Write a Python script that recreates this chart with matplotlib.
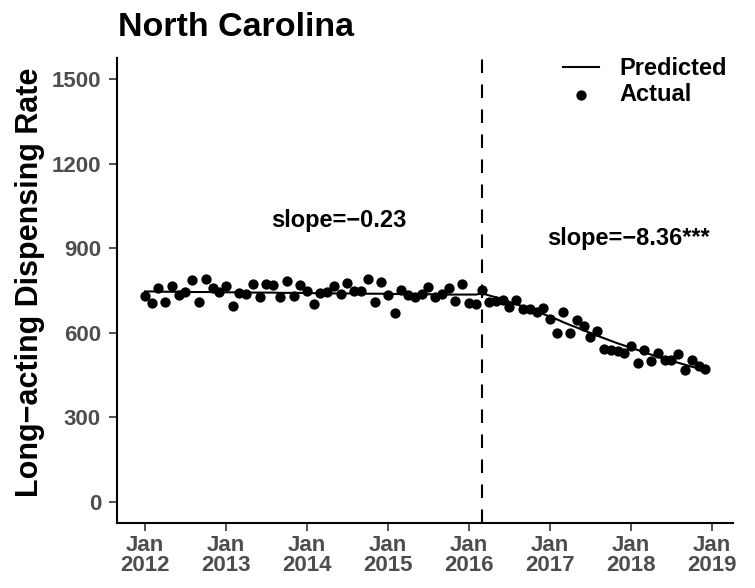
import matplotlib
matplotlib.use("Agg")
import matplotlib.pyplot as plt
import numpy as np
import pandas as pd

plt.rcParams['font.family'] = ['Liberation Sans', 'DejaVu Sans']

# monthly dispensing rate, Jan 2012 - Dec 2018
months = pd.date_range("2012-01-01", periods=84, freq="MS")
actual = [
    731, 707, 758, 708, 767, 734, 744, 787, 711, 790, 761, 746,
    766, 696, 742, 737, 775, 726, 775, 770, 728, 784, 731, 770,
    750, 702, 742, 746, 767, 738, 778, 748, 748, 791, 708, 781,
    734, 670, 752, 734, 726, 737, 764, 728, 738, 758, 713, 775,
    705, 701, 753, 710, 714, 715, 693, 716, 685, 684, 675, 690,
    650, 601, 673, 601, 644, 623, 587, 605, 542, 539, 535, 530,
    552, 493, 540, 501, 528, 503, 503, 525, 468, 505, 484, 470,
]
predicted = [
    747, 747, 747, 746, 746, 746, 746, 745, 745, 745, 745, 744,
    744, 744, 744, 744, 743, 743, 743, 743, 742, 742, 742, 742,
    741, 741, 741, 741, 740, 740, 740, 740, 739, 739, 739, 739,
    739, 738, 738, 738, 738, 737, 737, 737, 737, 736, 736, 736,
    736, 736, 740, 733, 726, 718, 710, 702, 694, 685, 676, 667,
    657, 648, 638, 628, 619, 609, 600, 590, 581, 572, 563, 555,
    547, 539, 531, 523, 515, 508, 501, 494, 487, 480, 474, 468,
]
break_date = pd.Timestamp("2016-03-01")
year_ticks = pd.date_range("2012-01-01", "2019-01-01", freq="YS")
tick_labels = ["Jan\n%d" % d.year for d in year_ticks]
slope_pre = "slope=\u22120.23"
slope_post = "slope=\u22128.36***"

fig = plt.figure(figsize=(7.55, 5.88), dpi=100)
ax = fig.add_axes([0.155, 0.1105, 0.816, 0.7905])

ax.plot(months, predicted, color="black", lw=1.5, label="Predicted", zorder=3)
ax.scatter(months, actual, s=55, color="black", label="Actual", zorder=4, linewidths=0)
ax.axvline(break_date, color="black", lw=1.5, dashes=(6.5, 5.5), zorder=2)

ax.text(pd.Timestamp("2014-05-25"), 1000, slope_pre, ha="center", va="center",
        fontsize=17, fontweight="bold")
ax.text(pd.Timestamp("2017-12-20"), 935, slope_post, ha="center", va="center",
        fontsize=17, fontweight="bold")

pad = pd.Timedelta(days=126)
ax.set_xlim(months[0] - pad, months[-1] + pad)
ax.set_ylim(-75, 1575)
ax.set_yticks([0, 300, 600, 900, 1200, 1500])
ax.set_xticks(year_ticks)
ax.set_xticklabels(tick_labels)

for side in ["top", "right"]:
    ax.spines[side].set_visible(False)
for side in ["left", "bottom"]:
    ax.spines[side].set_linewidth(1.5)
ax.tick_params(axis="both", length=5.5, width=1.2, color="#333333",
               labelsize=16, labelcolor="#4D4D4D")
ax.tick_params(axis="y", pad=6)
ax.tick_params(axis="x", pad=3)
for lab in ax.get_xticklabels() + ax.get_yticklabels():
    lab.set_fontweight("bold")
for lab in ax.get_xticklabels():
    lab.set_linespacing(0.95)

ax.set_ylabel("Long\u2212acting Dispensing Rate", fontsize=22, fontweight="bold")
ax.yaxis.set_label_coords(-0.117, 0.518)

leg = ax.legend(loc="upper right", bbox_to_anchor=(727 / 755, 1 - 57 / 588),
                bbox_transform=fig.transFigure, frameon=False,
                prop={"size": 17, "weight": "bold"}, handlelength=1.55,
                handletextpad=0.85, labelspacing=0.12, borderpad=0, borderaxespad=0)

fig.text(118 / 755, 1 - 28 / 588, "North Carolina", fontsize=24.5, fontweight="bold",
         ha="left", va="center")

fig.savefig("out.png", dpi=100)
